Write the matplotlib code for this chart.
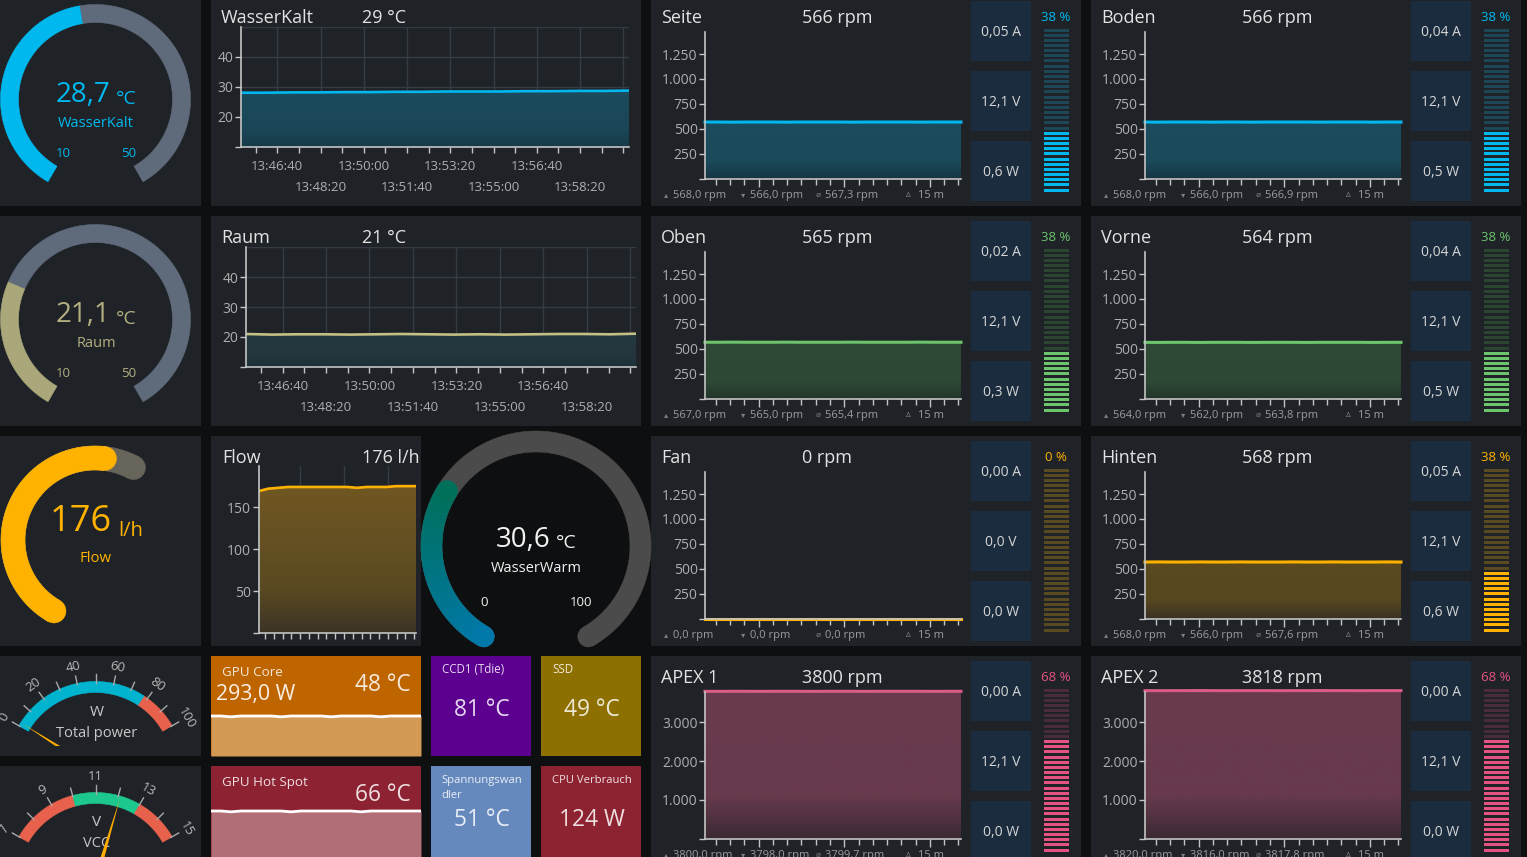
import numpy as np
import matplotlib
matplotlib.use('Agg')
import matplotlib.pyplot as plt
from matplotlib.patches import Rectangle, Polygon, Circle
from matplotlib.colors import LinearSegmentedColormap, to_rgb
from matplotlib.transforms import offset_copy

plt.rcParams['font.family'] = ['Open Sans', 'DejaVu Sans']

# ------------------------------------------------------------------ data
wasserkalt_now = 28.7
raum_now = 21.1
flow_now = 176
wasserwarm_now = 30.6
total_power_now = 2
vcc_now = 12.1

wasserkalt_title = '29 °C'
raum_title = '21 °C'
flow_title = '176 l/h'

wasserkalt_hist = [28.1, 28.1, 28.2, 28.2, 28.3, 28.3, 28.4, 28.4, 28.5, 28.5,
                   28.5, 28.6, 28.6, 28.7, 28.7, 28.8]
raum_hist = [21.0, 20.8, 20.9, 20.9, 20.8, 20.9, 21.0, 20.9, 20.8, 20.9,
             20.8, 20.9, 21.0, 21.0, 20.9, 21.1]
flow_hist = [169, 172, 173, 174, 174, 174, 174, 174, 174, 174, 173, 174,
             174, 174, 175, 175, 175]
time_labels = ['13:46:40', '13:48:20', '13:50:00', '13:51:40',
               '13:53:20', '13:55:00', '13:56:40', '13:58:20']

fan_names = ['Seite', 'Boden', 'Oben', 'Vorne', 'Fan', 'Hinten', 'APEX 1', 'APEX 2']
fan_rpm = [566, 566, 565, 564, 0, 568, 3800, 3818]
fan_max = [568.0, 568.0, 567.0, 564.0, 0.0, 568.0, 3800.0, 3820.0]
fan_min = [566.0, 566.0, 565.0, 562.0, 0.0, 566.0, 3798.0, 3816.0]
fan_avg = [567.3, 566.9, 565.4, 563.8, 0.0, 567.6, 3799.7, 3817.8]
fan_amps = [0.05, 0.04, 0.02, 0.04, 0.00, 0.05, 0.00, 0.00]
fan_volts = [12.1, 12.1, 12.1, 12.1, 0.0, 12.1, 12.1, 12.1]
fan_watts = [0.6, 0.5, 0.3, 0.5, 0.0, 0.6, 0.0, 0.0]
fan_percent = [38, 38, 38, 38, 0, 38, 68, 68]

seite_hist = [567, 567, 566, 567, 567, 567, 566, 567, 567, 567,
              567, 566, 567, 567, 567, 567, 566, 567, 567, 567]
boden_hist = [567, 566, 567, 567, 567, 566, 567, 567, 566, 567,
              567, 567, 567, 566, 567, 567, 567, 566, 567, 567]
oben_hist = [565, 565, 566, 565, 565, 565, 566, 565, 565, 565,
             565, 566, 565, 565, 565, 565, 566, 565, 565, 565]
vorne_hist = [564, 563, 564, 564, 563, 564, 564, 564, 563, 564,
              564, 564, 563, 564, 564, 564, 564, 563, 564, 564]
fan_hist = [0, 0, 0, 0, 0, 0, 0, 0, 0, 0, 0, 0, 0, 0, 0, 0, 0, 0, 0, 0]
hinten_hist = [567, 568, 567, 567, 568, 567, 567, 568, 567, 567,
               567, 568, 567, 567, 568, 567, 567, 567, 568, 567]
apex1_hist = [3800, 3799, 3800, 3800, 3799, 3800, 3800, 3800, 3799, 3800,
              3800, 3800, 3799, 3800, 3800, 3800, 3800, 3799, 3800, 3800]
apex2_hist = [3818, 3817, 3818, 3818, 3819, 3818, 3817, 3818, 3818, 3818,
              3817, 3818, 3818, 3819, 3818, 3818, 3817, 3818, 3818, 3818]

gpu_core_power = 293.0
gpu_core_temp = 48
gpu_core_hist = [48, 48, 47, 48, 48, 48, 48, 47, 48, 48, 48, 48, 47, 48,
                 48, 48, 48, 47, 48, 48, 48, 48]
gpu_hotspot_temp = 66
gpu_hotspot_hist = [66, 66, 65, 66, 66, 66, 66, 66, 65, 66, 66, 66, 66, 66,
                    66, 65, 66, 66, 66, 66, 66, 66]
ccd1_temp = 81
ssd_temp = 49
vrm_temp = 51
cpu_power = 124

# ------------------------------------------------------------------ style
W, H = 1527, 857
BG = '#0e0f10'
PANEL = '#1f2328'
BOX = '#1b2c3e'
TITLE = '#e2e2e2'
TICKLBL = '#aeaeae'
SPINE = '#c4c4c4'
GRID = '#353b42'
CYAN = '#00b8ee'
KHAKI = '#b3af80'
AMBER = '#ffb300'

PAL = {
    'cyan': dict(line='#00b8ee', fill=['#163743', '#1b4a5b', '#1c4c5d'], lit='#00b8ee', dim='#1d4757'),
    'green': dict(line='#6cc46c', fill=['#22352a', '#2d4935', '#2e4b37'], lit='#6cc46c', dim='#2b4530'),
    'amber': dict(line='#ffb300', fill=['#3a3224', '#57471f', '#5b4a20'], lit='#ffb300', dim='#5a4a22'),
    'pink': dict(line='#d95c84', fill=['#3b2a35', '#683a4e', '#6a3a4f'], lit='#e45382', dim='#4a2b3b'),
}


def de(v, d):
    return f'{v:.{d}f}'.replace('.', ',')


def thousands(v):
    return f'{v:,}'.replace(',', '.')


fig = plt.figure(figsize=(W / 100, H / 100), dpi=100)
fig.patch.set_facecolor(BG)
bg = fig.add_axes([0, 0, 1, 1], zorder=0)
fg = fig.add_axes([0, 0, 1, 1], zorder=20)
for a in (bg, fg):
    a.set_xlim(0, W)
    a.set_ylim(H, 0)
    a.axis('off')


def panel(x, y, w, h, c=PANEL):
    bg.add_patch(Rectangle((x, y), w, h, fc=c, ec='none'))


def clip_rect(x, y, w, h):
    return Rectangle((x, y), w, h, transform=fg.transData)


def T(x, yc, s, size, color, ha='left', clip=None, alpha=1.0):
    t = fg.text(x, yc + 0.496 * size, s, fontsize=size, color=color, ha=ha,
                va='baseline', alpha=alpha)
    if clip is not None:
        t.set_clip_path(clip)
        t.set_clip_on(True)
    return t


def px_axes(x0, y0, x1, y1, z=5):
    ax = fig.add_axes([x0 / W, 1 - y1 / H, (x1 - x0) / W, (y1 - y0) / H], zorder=z)
    ax.patch.set_alpha(0)
    return ax


def band(cx, cy, r_in, r_out, a1, a2, color, z=3, ax=None, n=120):
    ax = ax or fg
    th = np.radians(np.linspace(a1, a2, n))
    xo = cx + r_out * np.cos(th)
    yo = cy - r_out * np.sin(th)
    xi = cx + r_in * np.cos(th[::-1])
    yi = cy - r_in * np.sin(th[::-1])
    ax.add_patch(Polygon(np.column_stack([np.r_[xo, xi], np.r_[yo, yi]]), closed=True,
                         fc=color, ec=color, lw=0.4, zorder=z))


def cap(cx, cy, rm, w, a, color, z=3):
    th = np.radians(a)
    fg.add_patch(Circle((cx + rm * np.cos(th), cy - rm * np.sin(th)), w, fc=color,
                        ec=color, lw=0.3, zorder=z))


def gfill(ax, t, v, base, colors, top=None):
    verts = np.column_stack([np.r_[t, t[-1], t[0]], np.r_[v, base, base]])
    clip = Polygon(verts, closed=True, transform=ax.transData)
    cmap = LinearSegmentedColormap.from_list('g', list(zip([0, 0.3, 1], colors)))
    img = ax.imshow(np.linspace(0, 1, 256)[:, None], cmap=cmap, aspect='auto', origin='lower',
                    extent=[t[0], t[-1], base, top if top is not None else max(v)],
                    zorder=1, interpolation='bilinear')
    img.set_clip_path(clip)


def style(ax, xlim, ylim, yticks, ylabels, xmajor, xminor, minor_len=4.5):
    ax.set_xlim(*xlim)
    ax.set_ylim(*ylim)
    for s in ('top', 'right'):
        ax.spines[s].set_visible(False)
    for s in ('left', 'bottom'):
        ax.spines[s].set_color(SPINE)
        ax.spines[s].set_linewidth(1.2)
        ax.spines[s].set_zorder(4)
    ax.set_yticks(yticks, ylabels)
    ax.set_xticks(xmajor, [''] * len(xmajor))
    ax.set_xticks(xminor, minor=True)
    ax.tick_params(axis='y', length=4.5, width=1, color=SPINE, labelcolor=TICKLBL,
                   labelsize=10, pad=0.8)
    ax.tick_params(axis='x', which='major', length=4.5, width=1, color=SPINE)
    ax.tick_params(axis='x', which='minor', length=minor_len, width=1, color=SPINE)


# ------------------------------------------------------------------ panels
for y in (-4, 216, 436):
    panel(-9, y, 210, 210)
panel(-9, 656, 210, 100)
panel(-9, 766, 210, 100)
panel(211, -4, 430, 210)
panel(211, 216, 430, 210)
panel(211, 436, 210, 210)

# ------------------------------------------------------------------ ring gauges (left)
def ring_gauge(cx, cy, val, vmin, vmax, col, rest, txtcol, name, yoff):
    a0, a1 = 240, -60
    av = a0 - (val - vmin) / (vmax - vmin) * (a0 - a1)
    band(cx, cy, 77, 95, a1, av, rest)
    band(cx, cy, 77, 95, av, a0, col)
    T(83, yoff - 7, de(val, 1), 20, txtcol, ha='center')
    T(126, yoff - 2, '°C', 14, txtcol, ha='center')
    T(96, yoff + 22, name, 10.5, txtcol, ha='center')
    T(63, yoff + 53, str(vmin), 9.5, txtcol, ha='center')
    T(129, yoff + 53, str(vmax), 9.5, txtcol, ha='center')


ring_gauge(95.5, 99.5, wasserkalt_now, 10, 50, CYAN, '#5f6b7b', CYAN, 'WasserKalt', 99.5)
ring_gauge(95.5, 319.5, raum_now, 10, 50, '#aaa87a', '#5f6b7b', KHAKI, 'Raum', 319.5)

# flow gauge (round caps)
fcx, fcy, fri, fro = 95, 540, 70, 94
frm, fw = (fri + fro) / 2, (fro - fri) / 2
fa0, fa1 = 240, 62
fav = fa0 - flow_now / 200 * (fa0 - fa1)
band(fcx, fcy, fri, fro, fa1, fa0, '#67645a')
cap(fcx, fcy, frm, fw, fa1, '#67645a')
band(fcx, fcy, fri, fro, fav, fa0, AMBER, z=4)
cap(fcx, fcy, frm, fw, fa0, AMBER, z=4)
cap(fcx, fcy, frm, fw, fav, AMBER, z=4)
T(81, 518, str(flow_now), 26, AMBER, ha='center')
T(131, 529, 'l/h', 14.5, AMBER, ha='center')
T(95.5, 557, 'Flow', 10.7, AMBER, ha='center')

# WasserWarm gauge (gradient, round caps)
wcx, wcy, wri, wro = 536, 546, 94, 115
wrm, ww = (wri + wro) / 2, (wro - wri) / 2
wa0, wa1 = 240, -60
wav = wa0 - wasserwarm_now / 100 * (wa0 - wa1)
band(wcx, wcy, wri, wro, wa1, wa0, '#4b4b4b')
cap(wcx, wcy, wrm, ww, wa1, '#4b4b4b')
cap(wcx, wcy, wrm, ww, wa0, '#4b4b4b')
c_start, c_end = np.array(to_rgb('#0079aa')), np.array(to_rgb('#00705a'))
nseg = 40
edges = np.linspace(wa0, wav, nseg + 1)
for k in range(nseg):
    f = (k + 0.5) / nseg
    band(wcx, wcy, wri, wro, edges[k + 1], edges[k], tuple(c_start + (c_end - c_start) * f), z=4, n=8)
cap(wcx, wcy, wrm, ww, wa0, tuple(c_start), z=4)
cap(wcx, wcy, wrm, ww, wav, tuple(c_end), z=4)
T(523, 537, de(wasserwarm_now, 1), 20, '#f2f2f2', ha='center')
T(566, 541, '°C', 14, '#f2f2f2', ha='center')
T(536.5, 566.5, 'WasserWarm', 10.5, '#f2f2f2', ha='center')
T(484, 601, '0', 9.5, '#f2f2f2', ha='center')
T(581, 601, '100', 9.5, '#f2f2f2', ha='center')

# ------------------------------------------------------------------ meter gauges
def meter(cx, cy, vmin, vmax, segs, major, minor, val, unit, label, py, needle_clip_h):
    a0, a1 = 150, 30

    def ang(v):
        return a0 - (v - vmin) / (vmax - vmin) * (a0 - a1)

    for s, e, c in segs:
        band(cx, cy, 77.5, 88.5, ang(e), ang(s), c)
    for v in list(major) + list(minor):
        th = np.radians(ang(v))
        fg.plot([cx + 87 * np.cos(th), cx + 96 * np.cos(th)],
                [cy - 87 * np.sin(th), cy - 96 * np.sin(th)], color='#a8a8a8', lw=1.0, zorder=5)
    for v in major:
        a = ang(v)
        th = np.radians(a)
        fg.text(cx + 105 * np.cos(th), cy - 105 * np.sin(th), str(v), fontsize=9.5,
                color='#b8b8b8', ha='center', va='center', rotation=a - 90,
                rotation_mode='anchor')
    th = np.radians(ang(val))
    tip = (cx + 86 * np.cos(th), cy - 86 * np.sin(th))
    px, py_ = -np.sin(th), -np.cos(th)
    base1 = (cx + 2.6 * px, cy + 2.6 * py_)
    base2 = (cx - 2.6 * px, cy - 2.6 * py_)
    nd = Polygon([tip, base1, base2], closed=True, fc='#ffab00', ec='none', zorder=6)
    fg.add_patch(nd)
    nd.set_clip_path(clip_rect(0, py, 201, needle_clip_h))
    T(cx + 1, py + 54.5, unit, 11, '#c8c8c8', ha='center')
    T(cx + 1, py + 76, label, 10.5, '#c8c8c8', ha='center')


RED = '#e8614d'
meter(95.5, 770, 0, 100, [(0, 78, '#00b4cf'), (78, 100, RED)], range(0, 101, 20),
      range(10, 100, 20), total_power_now, 'W', 'Total power', 656, 90)
meter(95.5, 881, 7, 15, [(7, 10, RED), (10, 13, '#1dc88e'), (13, 15, RED)], range(7, 16, 2),
      range(8, 15, 2), vcc_now, 'V', 'VCC', 766, 100)

# ------------------------------------------------------------------ temperature charts
def time_chart(box, vals, line_c, fill_cols, lbl_off):
    x0, y0, x1, y1 = box
    ax = px_axes(x0, y0, x1, y1)
    t = np.linspace(0, 897, len(vals))
    gfill(ax, t, vals, 10, fill_cols)
    ax.plot(t, vals, color=line_c, lw=1.9, zorder=3, solid_capstyle='butt')
    major = np.arange(84, 897, 100)
    style(ax, (0, 897), (10, 50), [10, 20, 30, 40], ['', '20', '30', '40'],
          major, np.arange(34, 897, 100))
    ax.grid(True, axis='both', which='major', color=GRID, lw=1, zorder=0)
    ax.axhline(50, color=GRID, lw=1, zorder=0)
    ax.set_axisbelow(True)
    for k, lab in enumerate(time_labels):
        tr = offset_copy(ax.get_xaxis_transform(), fig=fig, y=-(lbl_off + 21 * (k % 2)), units='dots')
        ax.text(major[k], 0, lab, transform=tr, fontsize=9.5, color=TICKLBL, ha='center',
                va='baseline', clip_on=False)
    return ax


T(221, 17, 'WasserKalt', 13, TITLE)
T(362, 17, wasserkalt_title, 13, TITLE)
time_chart((241, 27, 629, 147), wasserkalt_hist, CYAN,
           ['#173a47', '#1a4757', '#1b4b5c'], 22.7)
T(221, 237, 'Raum', 13, TITLE)
T(362, 237, raum_title, 13, TITLE)
time_chart((246, 247, 636, 367), raum_hist, '#c4bf84',
           ['#1f3037', '#23363d', '#24383f'], 22.7)

# flow chart
T(222, 457, 'Flow', 13, TITLE)
T(362, 457, flow_title, 13, TITLE, clip=clip_rect(211, 436, 210, 210))
axf = px_axes(258.5, 466, 416, 633)
tf = np.linspace(0, 897, len(flow_hist))
gfill(axf, tf, flow_hist, 0, ['#3b3325', '#5a4a21', '#705722'])
axf.plot(tf, flow_hist, color=AMBER, lw=1.9, zorder=3)
style(axf, (0, 897), (0, 199), [0, 50, 100, 150], ['', '50', '100', '150'],
      np.arange(237, 897, 250), np.arange(37, 897, 50))
axf.grid(True, axis='x', which='major', color=GRID, lw=1, zorder=0)
axf.set_axisbelow(True)

# ------------------------------------------------------------------ fan panels
fan_hists = [seite_hist, boden_hist, oben_hist, vorne_hist, fan_hist, hinten_hist,
             apex1_hist, apex2_hist]
fan_pal = ['cyan', 'cyan', 'green', 'green', 'amber', 'amber', 'pink', 'pink']
fan_pos = [(651, -4), (1091, -4), (651, 216), (1091, 216), (651, 436), (1091, 436),
           (651, 656), (1091, 656)]
fan_axis_max = [1474, 1474, 1474, 1474, 1474, 1474, 3790, 3790]


def fan_panel(i):
    x0, y0 = fan_pos[i]
    p = PAL[fan_pal[i]]
    vals = fan_hists[i]
    panel(x0, y0, 430, 210)
    T(x0 + 10, y0 + 21, fan_names[i], 13, TITLE)
    T(x0 + 151, y0 + 21, f'{fan_rpm[i]} rpm', 13, TITLE)
    ax = px_axes(x0 + 54, y0 + 35.7, x0 + 310, y0 + 182.5)
    t = np.linspace(0, 897, len(vals))
    if max(vals) > 0:
        gfill(ax, t, vals, 0, p['fill'])
    ax.plot(t, vals, color=p['line'], lw=2.2, zorder=3, clip_on=False)
    ymax = fan_axis_max[i]
    if ymax < 2000:
        yt = list(range(0, 1251, 250))
    else:
        yt = list(range(0, 3001, 1000))
    major = np.arange(188, 897, 300)
    minor = [m for m in np.arange(38, 897, 50) if m not in major]
    style(ax, (0, 897), (0, ymax), yt, [''] + [thousands(v) for v in yt[1:]],
          major, minor, minor_len=4.0)
    ax.tick_params(axis='x', which='major', length=6)
    # stats row
    sy = y0 + 198
    stats = [('▴', de(fan_max[i], 1) + ' rpm', 15), ('▾', de(fan_min[i], 1) + ' rpm', 92),
             ('ø', de(fan_avg[i], 1) + ' rpm', 167), ('Δ', '15 m', 257)]
    for icon, s, dx in stats:
        T(x0 + dx, sy, icon, 6, '#7e7e7e', ha='center')
        T(x0 + dx + 7 + (3 if icon == 'Δ' else 0), sy, s, 8, '#9c9c9c')
    # info boxes
    for k, s in enumerate([de(fan_amps[i], 2) + ' A', de(fan_volts[i], 1) + ' V',
                           de(fan_watts[i], 1) + ' W']):
        bg.add_patch(Rectangle((x0 + 320, y0 + 5 + 70 * k), 60, 60, fc=BOX, ec='none'))
        T(x0 + 350, y0 + 35 + 70 * k, s, 10, '#d6d6d6', ha='center')
    # bar meter
    T(x0 + 405, y0 + 20, f'{fan_percent[i]} %', 9.5, p['lit'], ha='center')
    n = 32
    nlit = int(round(fan_percent[i] / 100 * n))
    pitch = 160 / (n - 1)
    for k in range(n):
        yy = y0 + 194 - k * pitch
        fg.add_patch(Rectangle((x0 + 393, yy - 1.5), 25, 3, fc=p['lit'] if k < nlit else p['dim'],
                               ec='none', zorder=3))


for i in range(8):
    fan_panel(i)

# ------------------------------------------------------------------ tiles
def tile_chart(x0, y0, w, h, top_c, under_c, vals):
    panel(x0, y0, w, h, top_c)
    ax = px_axes(x0, y0, x0 + w, y0 + h, z=4)
    ax.axis('off')
    x = np.arange(len(vals))
    ax.fill_between(x, 0, vals, color=under_c, lw=0)
    ax.plot(x, vals, color='white', lw=2.0)
    ax.set_xlim(0, len(vals) - 1)
    ax.set_ylim(0, 120)


tile_chart(211, 656, 210, 100, '#bf6500', '#d39a56', gpu_core_hist)
T(222, 671, 'GPU Core', 9.6, '#ffffff', alpha=0.85)
T(216, 692, de(gpu_core_power, 1) + ' W', 15.3, '#ffffff', alpha=0.9)
T(411, 683, f'{gpu_core_temp} °C', 16.4, '#ffffff', ha='right', alpha=0.85)

panel(431, 656, 100, 100, '#5b008f')
T(442, 668.5, 'CCD1 (Tdie)', 8.3, '#ffffff', alpha=0.85)
T(481.5, 707.5, f'{ccd1_temp} °C', 16.4, '#ffffff', ha='center', alpha=0.85)

panel(541, 656, 100, 100, '#8e7000')
T(552, 668.5, 'SSD', 8.3, '#ffffff', alpha=0.85)
T(591.5, 707.5, f'{ssd_temp} °C', 16.4, '#ffffff', ha='center', alpha=0.85)

tile_chart(211, 766, 210, 100, '#8c2232', '#b26e77', gpu_hotspot_hist)
T(222, 781.5, 'GPU Hot Spot', 9.6, '#ffffff', alpha=0.85)
T(411, 793, f'{gpu_hotspot_temp} °C', 16.4, '#ffffff', ha='right', alpha=0.85)

panel(431, 766, 100, 100, '#6589bd')
T(441, 779, 'Spannungswan', 8.1, '#ffffff', alpha=0.85)
T(441, 794, 'dler', 8.1, '#ffffff', alpha=0.85)
T(482, 817.5, f'{vrm_temp} °C', 16.4, '#ffffff', ha='center', alpha=0.85)

panel(541, 766, 100, 100, '#8d2331')
T(552, 779, 'CPU Verbrauch', 8.1, '#ffffff', alpha=0.85)
T(591.5, 817.5, f'{cpu_power} W', 16.4, '#ffffff', ha='center', alpha=0.85)

fig.savefig('out.png', dpi=100, facecolor=BG)
